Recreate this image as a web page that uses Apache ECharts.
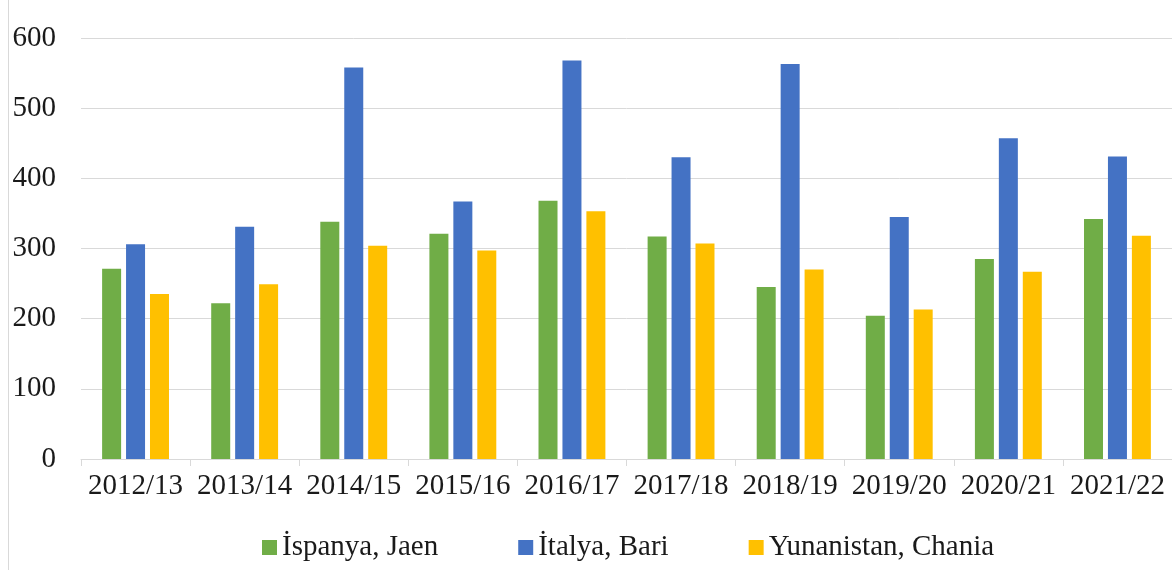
<!DOCTYPE html>
<html><head><meta charset="utf-8">
<script src="https://cdn.jsdelivr.net/npm/echarts@6/dist/echarts.min.js"></script>
<style>html,body{margin:0;padding:0;background:#fff}#c{width:1172px;height:570px}</style>
</head><body><div id="c"></div>
<script>
const categories = ['2012/13','2013/14','2014/15','2015/16','2016/17','2017/18','2018/19','2019/20','2020/21','2021/22'];
const spainJaen = [271, 222, 338, 321, 368, 317, 245, 204, 285, 342];
const italyBari = [306, 331, 558, 367, 568, 430, 563, 345, 457, 431];
const greeceChania = [235, 249, 304, 297, 353, 307, 270, 213, 267, 318];
const yTicks = [0, 100, 200, 300, 400, 500, 600];
const seriesNames = ['İspanya, Jaen', 'İtalya, Bari', 'Yunanistan, Chania'];

const font = 'Liberation Serif';
const chart = echarts.init(document.getElementById('c'));
chart.setOption({
  animation: false,
  textStyle: {fontFamily: font},
  color: ['#70AD47', '#4472C4', '#FFC000'],
  graphic: [{type: 'rect', shape: {x: 8, y: 0, width: 1, height: 570}, style: {fill: '#d9d9d9'}}],
  grid: {left: 81, right: 0, top: 38, bottom: 111},
  legend: {
    left: 257, top: 528, itemWidth: 15, itemHeight: 15, itemGap: 80,
    icon: 'rect',
    textStyle: {fontFamily: font, fontSize: 29, color: '#1a1a1a'},
    data: seriesNames
  },
  xAxis: {
    type: 'category', data: categories,
    axisLine: {lineStyle: {color: '#d9d9d9', width: 1}},
    axisTick: {show: true, length: 7, lineStyle: {color: '#d9d9d9'}},
    axisLabel: {fontFamily: font, fontSize: 29, color: '#1a1a1a', margin: 13, interval: 0}
  },
  yAxis: {
    type: 'value', min: 0, max: 600, interval: 100,
    axisLine: {show: false}, axisTick: {show: false},
    splitLine: {lineStyle: {color: '#d9d9d9', width: 1}},
    axisLabel: {fontFamily: font, fontSize: 29, color: '#1a1a1a', margin: 25,
      formatter: v => yTicks.includes(v) ? String(v) : ''}
  },
  series: [
    {name: seriesNames[0], type: 'bar', data: spainJaen, barWidth: 19, barGap: '26%'},
    {name: seriesNames[1], type: 'bar', data: italyBari, barWidth: 19, barGap: '26%'},
    {name: seriesNames[2], type: 'bar', data: greeceChania, barWidth: 19, barGap: '26%'}
  ]
});
</script></body></html>
